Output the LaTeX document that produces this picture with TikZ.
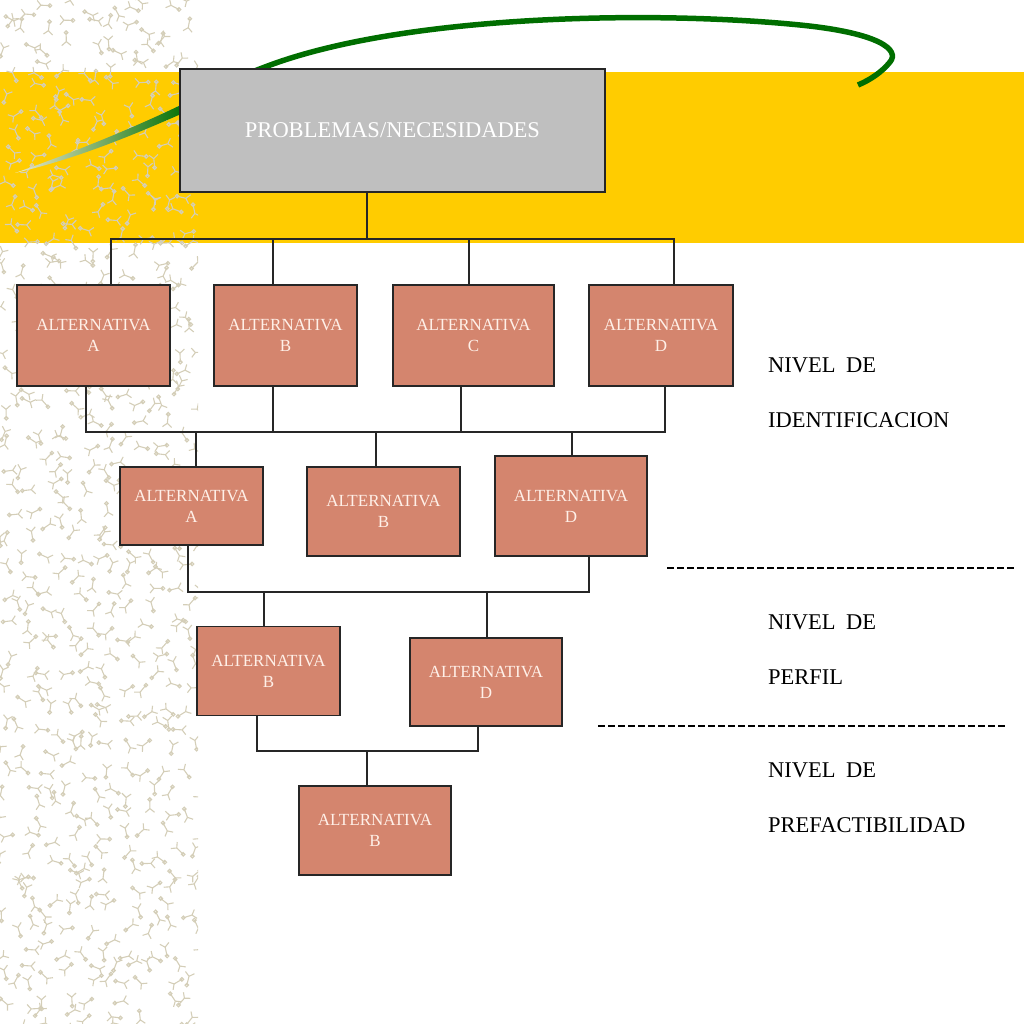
\documentclass[tikz,border=0pt]{standalone}
\usepackage{fontspec}
\setmainfont{Liberation Serif}
\definecolor{band}{RGB}{255,204,0}
\definecolor{altfill}{RGB}{212,133,110}
\definecolor{alttext}{RGB}{255,240,232}
\definecolor{probfill}{RGB}{191,191,191}
\definecolor{leaf}{RGB}{0,110,0}
\definecolor{pale}{RGB}{238,234,204}
\definecolor{deco}{RGB}{212,206,184}
\tikzset{
  alt/.style={draw=black!85, line width=1.8pt, fill=altfill, text=alttext, align=center, inner sep=0pt, font=\fontsize{17}{21}\selectfont},
  link/.style={draw=black!85, line width=1.6pt},
  nivel/.style={anchor=base west, inner sep=0pt, font=\fontsize{22.5}{26}\selectfont},
  cut/.style={line width=1.6pt, dash pattern=on 7pt off 3pt}
}
\begin{document}
\begin{tikzpicture}[x=1pt,y=-1pt]
\useasboundingbox (0,0) rectangle (1024,1024);
\fill[band] (0,72) rectangle (1024,243);
\begin{scope}
\clip (0,0) rectangle (198,1024);
\pgfmathsetseed{11}
\foreach \gx in {0,...,9}
\foreach \gy in {0,...,51}{
  \pgfmathsetmacro{\px}{\gx*20+rnd*20}
  \pgfmathsetmacro{\py}{\gy*20+rnd*20}
  \pgfmathsetmacro{\pa}{rnd*360}
  \draw[deco, line width=1.1pt] (\px,\py) -- ++(\pa:9) circle (1.8) (\px,\py) -- ++(\pa+130:6) (\px,\py) -- ++(\pa+230:6);
}
\end{scope}
\shade[left color=pale, right color=leaf] (15,173) .. controls (80,150) and (140,125) .. (185,103) -- (188,111) .. controls (140,132) and (80,158) .. (15,173) -- cycle;
\draw[leaf, line width=5.5pt] (183,107) .. controls (215,90) and (240,76) .. (265,67) .. controls (400,15) and (650,10) .. (800,25) .. controls (880,33) and (900,50) .. (890,62) .. controls (882,72) and (870,80) .. (858,85);

\node[draw=black!85, line width=1.8pt, fill=probfill, text=white, inner sep=0pt, minimum width=425pt, minimum height=123pt, font=\fontsize{22.5}{27}\selectfont] (prob) at (392.5,130.5) {PROBLEMAS/NECESIDADES};

\node[alt, minimum width=153pt, minimum height=101pt] (altA1) at (93.5,335.5) {ALTERNATIVA\\A};
\node[alt, minimum width=143pt, minimum height=101pt] (altB1) at (285.5,335.5) {ALTERNATIVA\\B};
\node[alt, minimum width=161pt, minimum height=101pt] (altC1) at (473.5,335.5) {ALTERNATIVA\\C};
\node[alt, minimum width=144pt, minimum height=101pt] (altD1) at (661,335.5) {ALTERNATIVA\\D};
\node[alt, minimum width=143pt, minimum height=78pt] (altA2) at (191.5,506) {ALTERNATIVA\\A};
\node[alt, minimum width=153pt, minimum height=89pt] (altB2) at (383.5,511.5) {ALTERNATIVA\\B};
\node[alt, minimum width=152pt, minimum height=100pt] (altD2) at (571,506) {ALTERNATIVA\\D};
\node[alt, minimum width=143pt, minimum height=89pt] (altB3) at (268.5,671) {ALTERNATIVA\\B};
\node[alt, minimum width=152pt, minimum height=88pt] (altD3) at (486,682) {ALTERNATIVA\\D};
\node[alt, minimum width=152pt, minimum height=89pt] (altB4) at (375,830.5) {ALTERNATIVA\\B};

\coordinate (bus1) at (367,239);
\coordinate (bus2) at (375,432);
\coordinate (bus3) at (376,592);
\coordinate (bus4) at (367,751);
\draw[link] (prob.south -| bus1) -- (bus1);
\foreach \n/\s in {altA1/17.5, altB1/-12.5, altC1/-4.5, altD1/13}
  \draw[link] ([xshift=\s pt]\n.north) |- (bus1);
\foreach \n/\s in {altA1/-7.5, altB1/-12.5, altC1/-12.5, altD1/4}
  \draw[link] ([xshift=\s pt]\n.south) |- (bus2);
\foreach \n/\s in {altA2/4.5, altB2/-7.5, altD2/1}
  \draw[link] ([xshift=\s pt]\n.north) |- (bus2);
\foreach \n/\s in {altA2/-3.5, altD2/18}
  \draw[link] ([xshift=\s pt]\n.south) |- (bus3);
\foreach \n/\s in {altB3/-4.5, altD3/1}
  \draw[link] ([xshift=\s pt]\n.north) |- (bus3);
\foreach \n/\s in {altB3/-11.5, altD3/-8}
  \draw[link] ([xshift=\s pt]\n.south) |- (bus4);
\draw[link] ([xshift=-8pt]altB4.north) |- (bus4);

\node[nivel] (nivel1) at (768,372) {NIVEL\hspace{10.5pt}DE};
\node[nivel] (ident) at (768,427) {IDENTIFICACION};
\node[nivel] (nivel2) at (768,629) {NIVEL\hspace{10.5pt}DE};
\node[nivel] (perfil) at (768,684) {PERFIL};
\node[nivel] (nivel3) at (768,777) {NIVEL\hspace{10.5pt}DE};
\node[nivel] (prefac) at (768,832) {PREFACTIBILIDAD};
\draw[cut] (667,568) -- (1014,568);
\draw[cut] (598,726) -- (1008,726);
\end{tikzpicture}
\end{document}
